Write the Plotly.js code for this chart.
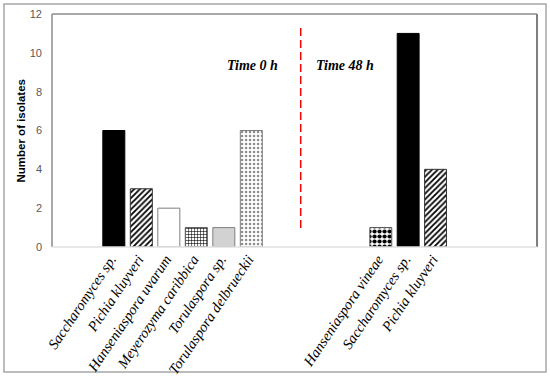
<!DOCTYPE html>
<html>
<head>
<meta charset="utf-8">
<script src="https://cdn.plot.ly/plotly-3.0.1.min.js"></script>
<style>
html,body{margin:0;padding:0;background:#fff;}
#chart{width:550px;height:378px;}
</style>
</head>
<body>
<div id="chart"></div>
<script>
// ---- data ----
var categories0h = ["Saccharomyces sp.", "Pichia kluyveri", "Hanseniaspora uvarum", "Meyerozyma caribbica", "Torulaspora sp.", "Torulaspora delbrueckii"];
var isolates0h = [6, 3, 2, 1, 1, 6];
var categories48h = ["Hanseniaspora vineae", "Saccharomyces sp.", "Pichia kluyveri"];
var isolates48h = [1, 11, 4];
var yTickValues = [0, 2, 4, 6, 8, 10, 12];

// ---- styles (one per bar) ----
var styles0h = [
  {shape: "", fg: "#000", bg: "#000", size: 4, sol: 0.3, line: "#000"},
  {shape: "/", fg: "#000", bg: "#fff", size: 4, sol: 0.45, line: "#333"},
  {shape: "", fg: "#fff", bg: "#fff", size: 4, sol: 0.3, line: "#7f7f7f"},
  {shape: "+", fg: "#000", bg: "#fff", size: 3, sol: 0.35, line: "#555"},
  {shape: ".", fg: "#999", bg: "#fff", size: 2, sol: 0.5, line: "#7f7f7f"},
  {shape: ".", fg: "#8a8a8a", bg: "#fff", size: 4, sol: 0.3, line: "#7f7f7f"}
];
var styles48h = [
  {shape: ".", fg: "#000", bg: "#fff", size: 5, sol: 0.55, line: "#555"},
  {shape: "", fg: "#000", bg: "#000", size: 4, sol: 0.3, line: "#000"},
  {shape: "/", fg: "#000", bg: "#fff", size: 4, sol: 0.45, line: "#333"}
];

var serif = "Liberation Serif, Times New Roman, serif";
var sans = "Liberation Sans, Arial, sans-serif";

function makeTraces(cats, vals, styles, xa) {
  return cats.map(function (c, i) {
    var s = styles[i];
    var m = {color: s.bg, line: {color: s.line, width: 1}};
    if (s.shape) {
      m.pattern = {shape: s.shape, fgcolor: s.fg, bgcolor: s.bg, size: s.size, solidity: s.sol, fillmode: "replace"};
    }
    return {type: "bar", x: [c], y: [vals[i]], xaxis: xa, yaxis: "y", marker: m, showlegend: false, name: c};
  });
}

var traces = makeTraces(categories0h, isolates0h, styles0h, "x")
  .concat(makeTraces(categories48h, isolates48h, styles48h, "x2"));

var xTickFont = {family: serif, size: 14.5, color: "#000", style: "italic"};
var layout = {
  width: 550, height: 378,
  margin: {l: 52, r: 13, t: 14, b: 131, pad: 0},
  paper_bgcolor: "#fff", plot_bgcolor: "#fff",
  barmode: "overlay",
  bargap: 0.2,
  font: {family: sans},
  xaxis: {
    domain: [0.0991, 0.4393], type: "category", tickangle: -56,
    categoryorder: "array", categoryarray: categories0h,
    showgrid: false, zeroline: false, showline: false, ticks: "",
    ticklabelshift: -3,
    tickfont: xTickFont, anchor: "y", fixedrange: true
  },
  xaxis2: {
    domain: [0.6497, 0.8190], type: "category", tickangle: -56,
    categoryorder: "array", categoryarray: categories48h,
    showgrid: false, zeroline: false, showline: false, ticks: "",
    ticklabelshift: -3,
    tickfont: xTickFont, anchor: "y", fixedrange: true
  },
  yaxis: {
    anchor: "free", position: 0,
    range: [0, 12], tickvals: yTickValues, ticktext: yTickValues.map(String),
    showgrid: false, zeroline: false, showline: false, ticks: "",
    ticklabelstandoff: 10,
    tickfont: {family: sans, size: 11, color: "#595959"},
    fixedrange: true
  },
  shapes: [
    {type: "rect", xref: "paper", yref: "paper", x0: -0.0990, x1: 1.0186, y0: -0.5365, y1: 1.0429,
     line: {color: "#a6a6a6", width: 1.5}, fillcolor: "rgba(0,0,0,0)", layer: "below"},
    {type: "line", xref: "paper", yref: "paper", x0: 0, x1: 0, y0: 0, y1: 1, line: {color: "#8c8c8c", width: 1.5}},
    {type: "line", xref: "paper", yref: "paper", x0: 0, x1: 1, y0: 1, y1: 1, line: {color: "#8c8c8c", width: 1.5}},
    {type: "line", xref: "paper", yref: "paper", x0: 1, x1: 1, y0: 0, y1: 1, line: {color: "#7f7f7f", width: 2}},
    {type: "line", xref: "paper", yref: "paper", x0: 0, x1: 1, y0: 0, y1: 0, line: {color: "#e0e0e0", width: 1.5}},
    {type: "line", xref: "paper", yref: "paper", x0: 0.5128, x1: 0.5128, y0: 0.0815, y1: 0.9528,
     line: {color: "#ff0000", width: 1.5, dash: "8px,4px"}}
  ],
  annotations: [
    {text: "Number of isolates", xref: "paper", yref: "paper", x: -0.0629, y: 0.502, textangle: -90,
     xanchor: "center", yanchor: "middle",
     showarrow: false, font: {family: sans, size: 11.5, color: "#000", weight: "bold"}},
    {text: "<b><i>Time 0 h</i></b>", xref: "paper", yref: "paper", x: 0.413, y: 0.82, showarrow: false,
     xanchor: "center", font: {family: serif, size: 14, color: "#000"}},
    {text: "<b><i>Time 48 h</i></b>", xref: "paper", yref: "paper", x: 0.604, y: 0.82, showarrow: false,
     xanchor: "center", font: {family: serif, size: 14, color: "#000"}}
  ]
};

Plotly.newPlot("chart", traces, layout, {displayModeBar: false, staticPlot: true});
</script>
</body>
</html>
